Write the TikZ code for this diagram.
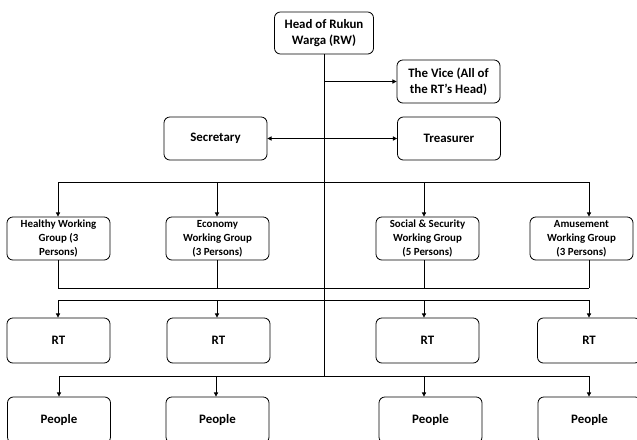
\documentclass[tikz,border=0pt]{standalone}
\usepackage{fontspec}
\setmainfont{Carlito}
\usetikzlibrary{arrows.meta}
\tikzset{
  unit/.style={draw, line width=0.7pt, rounded corners=5pt, align=center, inner sep=1pt,
    font=\bfseries\fontsize{11}{14}\selectfont, minimum width=3.09cm, minimum height=1.29cm},
  group/.style={unit, font=\bfseries\fontsize{9.3}{12}\selectfont},
  link/.style={line width=0.7pt},
}
\begin{document}
\begin{tikzpicture}[x=0.03cm, y=-0.03cm, >={Triangle[length=3.5pt, width=3.5pt]}]
                \useasboundingbox (0, 0) rectangle (637, 439);
                \clip (0, 0) rectangle (637, 439);
                % Head, vice, secretary and treasurer
                \node[unit, minimum width=2.97cm, minimum height=1.26cm] (head) at (324, 33) {Head of Rukun\\Warga (RW)};
                \node[unit] (vice) at (448.5, 81.5) {The Vice (All of\\the RT's Head)};
                \node[unit] (secretary) at (215.5, 138.5) {Secretary};
                \node[unit] (treasurer) at (449, 138.5) {Treasurer};

                % Working groups
                \node[group] (healthy) at (58.5, 238.5) {Healthy Working\\Group (3\\Persons)};
                \node[group] (economy) at (217.5, 238.5) {Economy\\Working Group\\(3 Persons)};
                \node[group] (social) at (427.5, 238.5) {Social \& Security\\Working Group\\(5 Persons)};
                \node[group] (amusement) at (581.5, 238.5) {Amusement\\Working Group\\(3 Persons)};

                % RT
                \node[unit, minimum height=1.35cm] (rtA) at (58.5, 340.5) {RT};
                \node[unit, minimum height=1.35cm] (rtB) at (218.5, 340.5) {RT};
                \node[unit, minimum height=1.35cm] (rtC) at (427.5, 340.5) {RT};
                \node[unit, minimum height=1.35cm] (rtD) at (589, 340.5) {RT};

                % People
                \node[unit, minimum height=1.38cm] (peopleA) at (59, 420) {People};
                \node[unit, minimum height=1.38cm] (peopleB) at (217.5, 420) {People};
                \node[unit, minimum height=1.38cm] (peopleC) at (430.5, 420) {People};
                \node[unit, minimum height=1.38cm] (peopleD) at (589.5, 420) {People};

                % Bus corners
                \path (58, 182) coordinate (G1);
                \path (217, 182) coordinate (G2);
                \path (424, 182) coordinate (G3);
                \path (589, 182) coordinate (G4);
                \path (58, 288) coordinate (B1);
                \path (217, 288) coordinate (B2);
                \path (424, 288) coordinate (B3);
                \path (589, 288) coordinate (B4);
                \path (58, 300) coordinate (R1);
                \path (217, 300) coordinate (R2);
                \path (424, 300) coordinate (R3);
                \path (589, 300) coordinate (R4);
                \path (59, 376) coordinate (P1);
                \path (216, 376) coordinate (P2);
                \path (424, 376) coordinate (P3);
                \path (589, 376) coordinate (P4);

                % Spine
                \draw[link] (head.south) -- (head.south |- P1);
                \draw[link, ->] (head.south |- vice.west) -- (vice.west);
                \draw[link, <->] (secretary.east) -- (treasurer.west);

                % Groups
                \draw[link] (G1) -- (G4);
                \draw[link, ->] (G1) -- (G1 |- healthy.north);
                \draw[link, ->] (G2) -- (G2 |- economy.north);
                \draw[link, ->] (G3) -- (G3 |- social.north);
                \draw[link, ->] (G4) -- (G4 |- amusement.north);
                \draw[link] (healthy.south -| B1) -- (B1);
                \draw[link] (economy.south -| B2) -- (B2);
                \draw[link] (social.south -| B3) -- (B3);
                \draw[link] (amusement.south -| B4) -- (B4);
                \draw[link] (B1) -- (B4);

                % RT
                \draw[link] (R1) -- (R4);
                \draw[link, ->] (R1) -- (R1 |- rtA.north);
                \draw[link, ->] (R2) -- (R2 |- rtB.north);
                \draw[link, ->] (R3) -- (R3 |- rtC.north);
                \draw[link, ->] (R4) -- (R4 |- rtD.north);

                % People
                \draw[link] (P1) -- (P4);
                \draw[link, ->] (P1) -- (P1 |- peopleA.north);
                \draw[link, ->] (P2) -- (P2 |- peopleB.north);
                \draw[link, ->] (P3) -- (P3 |- peopleC.north);
                \draw[link, ->] (P4) -- (P4 |- peopleD.north);
            \end{tikzpicture}
\end{document}
